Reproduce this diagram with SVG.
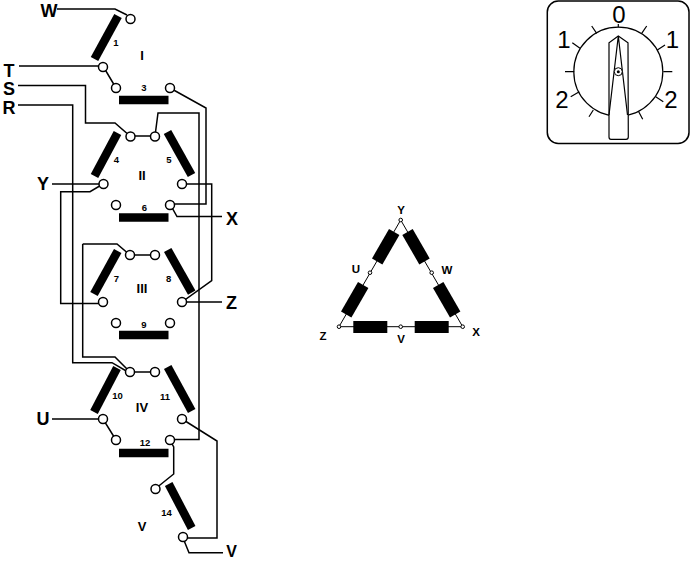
<svg xmlns="http://www.w3.org/2000/svg" width="700" height="561" viewBox="0 0 700 561">
<style>
text{font-family:"Liberation Sans",Arial,sans-serif;text-anchor:middle}
.big{font-size:18px;font-weight:bold}
.rom{font-size:13px;font-weight:bold}
.num{font-size:9.500px;font-weight:bold}
.tl{font-size:11.500px;font-weight:bold}
.dl{font-size:24px}
.w{fill:none;stroke:#000;stroke-width:1.500;stroke-linejoin:miter}
.bar{stroke:#000;stroke-width:8.500;fill:none}
.t{fill:#fff;stroke:#000;stroke-width:1.500}
.t2{fill:#fff;stroke:#000;stroke-width:1}
.d{fill:none;stroke:#000;stroke-width:1.200}
</style>
<rect width="700" height="561" fill="#fff"/>
<g id="connectors">
<path class="w" d="M57 9H115L127 15"/>
<path class="w" d="M19 66H103L116 88"/>
<path class="w" d="M18 85.500H85.500V123H115L130 136H155L158 113H199V439.500H170"/>
<path class="w" d="M18 105H72.700V362.700H112L128 372"/>
<path class="w" d="M82.700 244V357H115L130 372H155"/>
<path class="w" d="M52 184H103"/>
<path class="w" d="M103 184L90 191.700H60.700V303.500H103"/>
<path class="w" d="M170 88L206 108V204H170L177 216.500H222"/>
<path class="w" d="M182 184H211.700V280.700L182 302H222"/>
<path class="w" d="M82.700 244H117L130 255H155"/>
<path class="w" d="M52 419H103L116 440"/>
<path class="w" d="M182 419L217 441V538H183L189 552.700H223"/>
<path class="w" d="M170 440L173.700 447V474L155 489"/>
</g>
<g id="contact-1"><path class="bar" d="M118 16L94.500 59"/><circle class="t" cx="130.500" cy="19" r="4.500"/><text class="num" x="116" y="46">1</text></g>
<g id="contact-3"><path class="bar" d="M119 100H168.500"/><circle class="t" cx="103" cy="67" r="4.500"/><circle class="t" cx="116" cy="88" r="4.500"/><circle class="t" cx="170" cy="88" r="4.500"/><text class="num" x="144" y="91">3</text></g>
<g id="contact-4"><path class="bar" d="M117.500 133L94.500 176"/><circle class="t" cx="130.500" cy="136.500" r="4.500"/><circle class="t" cx="103.500" cy="184" r="4.500"/><text class="num" x="116.500" y="162.500">4</text></g>
<g id="contact-5"><path class="bar" d="M167.500 132L191.500 175"/><circle class="t" cx="155" cy="136.500" r="4.500"/><circle class="t" cx="182" cy="184" r="4.500"/><text class="num" x="169" y="163">5</text></g>
<g id="contact-6"><path class="bar" d="M119 217.500H168.500"/><circle class="t" cx="116" cy="205" r="4.500"/><circle class="t" cx="170" cy="205" r="4.500"/><text class="num" x="144.500" y="211">6</text></g>
<g id="contact-7"><path class="bar" d="M117.700 251L94 294"/><circle class="t" cx="130" cy="255" r="4.500"/><circle class="t" cx="103" cy="302" r="4.500"/><text class="num" x="116.500" y="281.700">7</text></g>
<g id="contact-8"><path class="bar" d="M167.700 250L191.700 292.700"/><circle class="t" cx="155" cy="255" r="4.500"/><circle class="t" cx="182" cy="302" r="4.500"/><text class="num" x="168.700" y="281.700">8</text></g>
<g id="contact-9"><path class="bar" d="M119 335H168.500"/><circle class="t" cx="116" cy="323" r="4.500"/><circle class="t" cx="170" cy="323" r="4.500"/><text class="num" x="144" y="328">9</text></g>
<g id="contact-10"><path class="bar" d="M117 368L94 412"/><circle class="t" cx="130" cy="372" r="4.500"/><circle class="t" cx="103" cy="419" r="4.500"/><text class="num" x="117.500" y="399">10</text></g>
<g id="contact-11"><path class="bar" d="M167.700 367L191.700 411"/><circle class="t" cx="155" cy="372" r="4.500"/><circle class="t" cx="182" cy="419" r="4.500"/><text class="num" x="165" y="400">11</text></g>
<g id="contact-12"><path class="bar" d="M119 453H168.500"/><circle class="t" cx="116" cy="440" r="4.500"/><circle class="t" cx="170" cy="440" r="4.500"/><text class="num" x="145" y="446">12</text></g>
<g id="contact-14"><path class="bar" d="M168.700 484L191.700 528"/><circle class="t" cx="155.500" cy="489" r="4.500"/><circle class="t" cx="183" cy="537" r="4.500"/><text class="num" x="166.500" y="516">14</text></g>
<g id="labels">
<text class="big" x="49" y="16.500">W</text><text class="big" x="9" y="76.500">T</text><text class="big" x="9" y="95">S</text><text class="big" x="9" y="114">R</text>
<text class="big" x="43" y="190">Y</text><text class="big" x="232" y="225">X</text><text class="big" x="231.500" y="308.500">Z</text><text class="big" x="43" y="425">U</text><text class="big" x="231.500" y="557" style="font-size:16px">V</text>
<text class="rom" x="142" y="59.500">I</text><text class="rom" x="142" y="179.500">II</text><text class="rom" x="142" y="293">III</text><text class="rom" x="142" y="411.700">IV</text><text class="rom" x="142" y="530.700">V</text>
</g>
<g id="delta">
<path class="w" d="M400.700 220L339 326.700H462.700Z" style="stroke-width:1"/>
<g fill="#000">
<rect x="353.300" y="321" width="34" height="12"/><rect x="414.700" y="321" width="34" height="12"/>
<rect x="-17" y="-6" width="34" height="12" transform="translate(385.700 246.700) rotate(-60)"/>
<rect x="-17" y="-6" width="34" height="12" transform="translate(354.700 299.700) rotate(-60)"/>
<rect x="-17" y="-6" width="34" height="12" transform="translate(416 246.700) rotate(60)"/>
<rect x="-17" y="-6" width="34" height="12" transform="translate(446.700 299.700) rotate(60)"/>
</g>
<circle class="t2" cx="400.700" cy="220" r="1.800"/><circle class="t2" cx="339" cy="326.700" r="1.800"/><circle class="t2" cx="462.700" cy="326.700" r="1.800"/><circle class="t2" cx="370" cy="272.700" r="1.800"/><circle class="t2" cx="431.700" cy="272.700" r="1.800"/><circle class="t2" cx="400.700" cy="326.700" r="1.800"/>
<text class="tl" x="401" y="214">Y</text><text class="tl" x="356" y="273.300">U</text><text class="tl" x="447" y="274">W</text><text class="tl" x="323" y="339.500">Z</text><text class="tl" x="401" y="343">V</text><text class="tl" x="476" y="336">X</text>
</g>
<g id="dial">
<rect class="d" x="547.300" y="1" width="141.700" height="142.500" rx="11" style="stroke-width:1.500"/>
<circle class="d" cx="618.300" cy="71.700" r="44.500"/>
<path class="d" d="M618.300 24V27.200M591.700 26L596.700 33.300M646.700 26L641.700 33.300M572.300 42.700L580 48.300M665 45L657.300 50M565 71.700H574.300M663.300 71.700H672.300M570.700 96.700L579.300 91.700M663.300 101.700L655.700 96.700M589 116.700L593.300 110M642.700 119.300L638.700 111.700"/>
<path d="M618.300 36L628 42.700L628.300 137Q628.300 139.300 626 139.300H611Q609 139.300 609 137V42.700Z" fill="#fff" stroke="#000" stroke-width="1.200"/>
<path class="d" d="M609 115L618.300 36L627.500 115"/>
<circle cx="618.300" cy="71.700" r="4" fill="#fff" stroke="#000" stroke-width="1"/><circle cx="618.300" cy="71.700" r="1.500" fill="#000"/>
<text class="dl" x="619" y="22.500">0</text><text class="dl" x="564" y="48">1</text><text class="dl" x="672.500" y="48">1</text><text class="dl" x="562" y="108">2</text><text class="dl" x="671" y="108">2</text>
</g>
</svg>
